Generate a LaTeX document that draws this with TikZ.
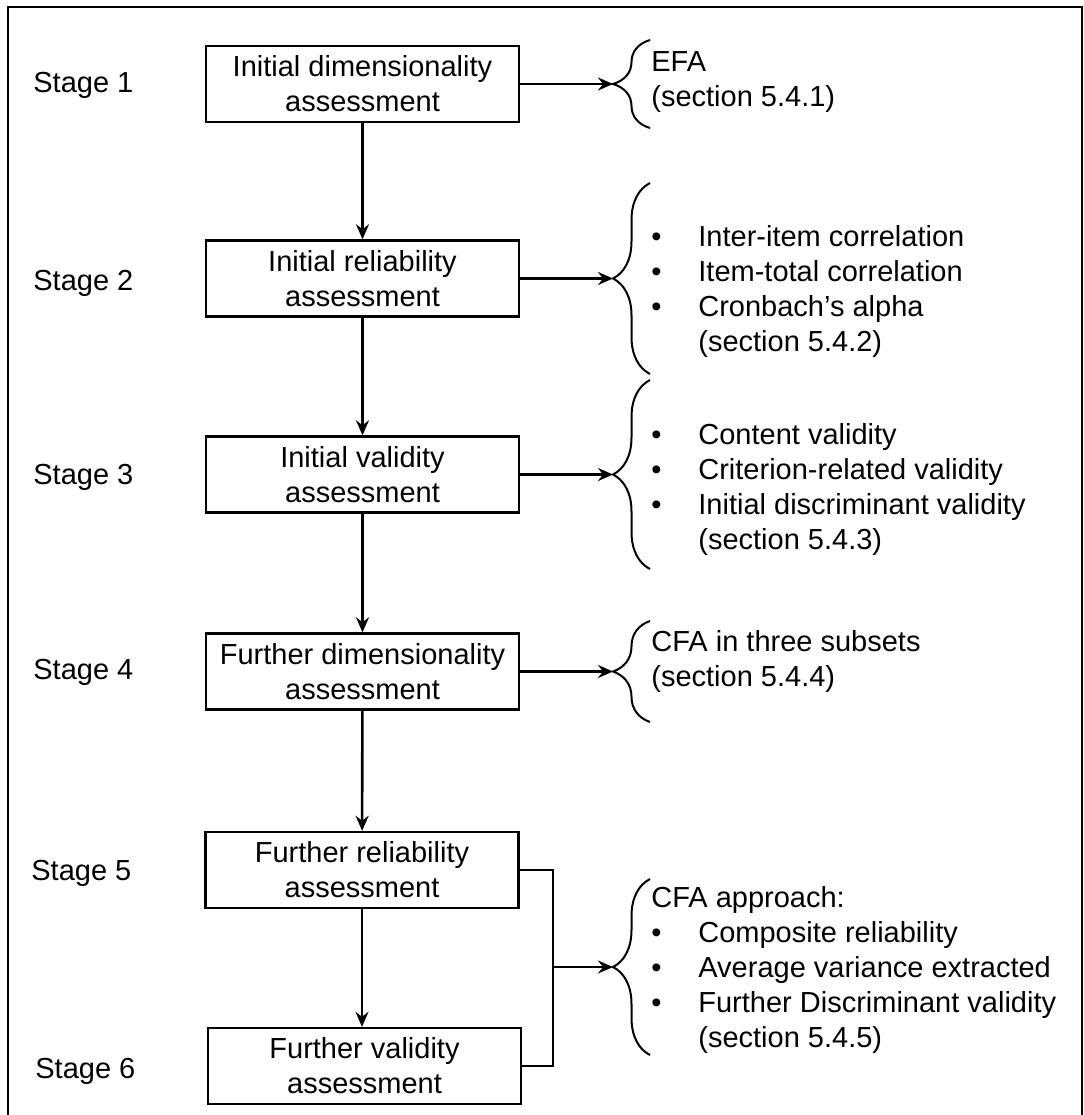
\documentclass[tikz,border=0pt]{standalone}
\usepackage{fontspec}
\setmainfont{Liberation Sans}
\usetikzlibrary{arrows.meta, decorations.pathreplacing}

\begin{document}
\begin{tikzpicture}[
    x=0.5pt, y=-0.5pt,
    font=\fontsize{14.5}{17.5}\selectfont,
    stage/.style={
      rectangle, draw=black, line width=1.2pt,
      align=center, inner sep=0pt,
      minimum width=156.5pt, minimum height=38pt
    },
    stagelbl/.style={anchor=west, inner sep=0pt},
    note/.style={anchor=west, inner sep=0pt, align=left},
    brc/.style={decorate, decoration={brace, amplitude=18.5pt}, line width=1pt},
    arr/.style={-{Stealth[length=7.5pt, width=6.5pt, inset=2.5pt]}, line width=1.3pt},
    link/.style={line width=1.3pt}
  ]
  \useasboundingbox (0,0) rectangle (1083,1115);
  % Marco
  \draw[line width=1.2pt] (1082,1115) -- (1082,7) -- (8,7) -- (8,1115);
  % Etapas
  \node[stage] (s1) at (362.5,84)   {Initial dimensionality\\assessment};
  \node[stage] (s2) at (362.5,278.5) {Initial reliability\\assessment};
  \node[stage] (s3) at (362.5,474.5) {Initial validity\\assessment};
  \node[stage] (s4) at (362.5,671.5) {Further dimensionality\\assessment};
  \node[stage] (s5) at (362,870)    {Further reliability\\assessment};
  \node[stage] (s6) at (364.5,1066) {Further validity\\assessment};
  % Rotulos
  \node[stagelbl] (l1) at (33,85)   {Stage 1};
  \node[stagelbl] (l2) at (33,283)  {Stage 2};
  \node[stagelbl] (l3) at (33,477)  {Stage 3};
  \node[stagelbl] (l4) at (33,672)  {Stage 4};
  \node[stagelbl] (l5) at (31,873)  {Stage 5};
  \node[stagelbl] (l6) at (35,1071) {Stage 6};
  % Llaves
  \draw[brc] (650,128) -- (650,40);
  \draw[brc] (650,374) -- (650,183);
  \draw[brc] (650,569) -- (650,380);
  \draw[brc] (650,722) -- (650,621);
  \draw[brc] (650,1055) -- (650,879);
  \coordinate (t1) at (613,84);
  \coordinate (t2) at (613,278.5);
  \coordinate (t3) at (613,474.5);
  \coordinate (t4) at (613,671.5);
  \coordinate (t5) at (613,967);
  \coordinate (j5) at (553,967);
  % Textos de las llaves
  \node[note] (n1) at (651,82) {EFA\\(section 5.4.1)};
  \node[note] (n2) at (651,291.5) {\begin{tabular}{@{}p{23.5pt}@{}l@{}}
    \textbullet & Inter-item correlation\\
    \textbullet & Item-total correlation\\
    \textbullet & Cronbach’s alpha\\
     & (section 5.4.2)
  \end{tabular}};
  \node[note] (n3) at (651,490) {\begin{tabular}{@{}p{23.5pt}@{}l@{}}
    \textbullet & Content validity\\
    \textbullet & Criterion-related validity\\
    \textbullet & Initial discriminant validity\\
     & (section 5.4.3)
  \end{tabular}};
  \node[note] (n4) at (651,661.5) {CFA in three subsets\\(section 5.4.4)};
  \node[note] (n5) at (651,970) {\begin{tabular}{@{}p{23.5pt}@{}l@{}}
    \multicolumn{2}{@{}l@{}}{CFA approach:}\\
    \textbullet & Composite reliability\\
    \textbullet & Average variance extracted\\
    \textbullet & Further Discriminant validity\\
     & (section 5.4.5)
  \end{tabular}};
  % Flujo principal
  \draw[arr] (s1) -- (s2);
  \draw[arr] (s2) -- (s3);
  \draw[arr] (s3) -- (s4);
  \draw[arr] (s4) -- (s5);
  \draw[arr] (s5.south) -- (s5.south |- s6.north);
  % Hacia las llaves
  \draw[arr] (s1.east) -- (t1);
  \draw[arr] (s2.east) -- (t2);
  \draw[arr] (s3.east) -- (t3);
  \draw[arr] (s4.east) -- (t4);
  \draw[link] (s5.east) -| (j5) |- (s6.east);
  \draw[arr] (j5) -- (t5);
\end{tikzpicture}
\end{document}
